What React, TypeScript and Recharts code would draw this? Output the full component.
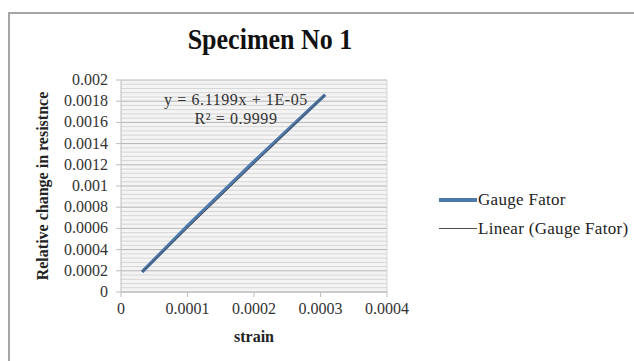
import { LineChart, Line, XAxis, YAxis, CartesianGrid, ReferenceLine } from "recharts";

// strain vs relative change in resistance
const strain = [0.0000316, 0.0001, 0.0002, 0.000307];
const resistance = [0.000189, 0.000622, 0.00123, 0.00186];

// linear trendline end points
const trendStrain = [0.0000316, 0.000307];
const trendResistance = [0.000189, 0.00186];

const xTicks = [0, 0.0001, 0.0002, 0.0003, 0.0004];
const yTicks = [0, 0.0002, 0.0004, 0.0006, 0.0008, 0.001, 0.0012, 0.0014, 0.0016, 0.0018, 0.002];
const minorTicks = [
  0.00004, 0.00008, 0.00012, 0.00016, 0.00024, 0.00028, 0.00032, 0.00036, 0.00044, 0.00048, 0.00052, 0.00056,
  0.00064, 0.00068, 0.00072, 0.00076, 0.00084, 0.00088, 0.00092, 0.00096, 0.00104, 0.00108, 0.00112, 0.00116,
  0.00124, 0.00128, 0.00132, 0.00136, 0.00144, 0.00148, 0.00152, 0.00156, 0.00164, 0.00168, 0.00172, 0.00176,
  0.00184, 0.00188, 0.00192, 0.00196,
];

const gaugeData = strain.map((x, i) => ({ x, y: resistance[i] }));
const trendData = trendStrain.map((x, i) => ({ x, y: trendResistance[i] }));

const serif = "Liberation Serif, DejaVu Serif, serif";
const BLUE = "#4d79ad";
const GRAY = "#4a4a4a";

const fmt = (v: number) => (v === 0 ? "0" : String(Number(v.toPrecision(4))));

function XTick(props: any) {
  const { x, y, payload } = props;
  return (
    <text x={x} y={y + 15} textAnchor="middle" fill="#333" style={{ fontFamily: serif, fontSize: 16 }}>
      {fmt(payload.value)}
    </text>
  );
}

function YTick(props: any) {
  const { x, y, payload } = props;
  return (
    <text x={x} y={y + 5} textAnchor="end" fill="#333" style={{ fontFamily: serif, fontSize: 16 }}>
      {fmt(payload.value)}
    </text>
  );
}

function LegendBox() {
  const rows = [
    { name: "Gauge Fator", color: BLUE, w: 4 },
    { name: "Linear (Gauge Fator)", color: GRAY, w: 1 },
  ];
  return (
    <div
      style={{
        position: "absolute",
        left: 439,
        top: 185,
        fontFamily: serif,
        fontSize: 17,
        letterSpacing: 0.3,
        color: "#222",
      }}
    >
      {rows.map((r) => (
        <div key={r.name} style={{ display: "flex", alignItems: "center", height: 29 }}>
          <div style={{ width: 38, height: r.w, background: r.color, marginRight: 1 }} />
          <span>{r.name}</span>
        </div>
      ))}
    </div>
  );
}

export default function App() {
  return (
    <div
      style={{
        position: "absolute",
        left: 0,
        top: 0,
        width: 634,
        height: 361,
        background: "#fff",
        overflow: "hidden",
        fontFamily: serif,
      }}
    >
      <div
        style={{
          position: "absolute",
          left: 8,
          top: 12,
          width: 660,
          height: 380,
          border: "2px solid #a6a6a6",
        }}
      />
      <div
        style={{
          position: "absolute",
          left: 0,
          width: 540,
          top: 25,
          textAlign: "center",
          fontWeight: "bold",
          fontSize: 26,
          color: "#111",
          transform: "scaleY(1.12)",
        }}
      >
        Specimen No 1
      </div>
      <div style={{ position: "absolute", left: 0, top: 0 }}>
        <LineChart
          width={634}
          height={361}
          margin={{ top: 80, right: 247, bottom: 13, left: 0 }}
          style={{ fontFamily: serif }}
        >
          <CartesianGrid horizontal={false} vertical={false} fill="#f4f4f4" />
          {minorTicks.map((v) => (
            <ReferenceLine key={v} y={v} stroke="#d6d6d6" strokeWidth={1} />
          ))}
          {yTicks.map((v) => (
            <ReferenceLine key={"m" + v} y={v} stroke="#b4b4b4" strokeWidth={1} />
          ))}
          <ReferenceLine x={0.0004} stroke="#d6d6d6" />
          <XAxis
            type="number"
            dataKey="x"
            domain={[0, 0.0004]}
            ticks={xTicks}
            interval={0}
            allowDuplicatedCategory={false}
            height={56}
            stroke="#bdbdbd"
            tickSize={5}
            tick={<XTick />}
            label={{
              value: "strain",
              position: "insideBottom",
              offset: 6,
              style: { fill: "#222", fontFamily: serif, fontWeight: "bold", fontSize: 16 },
            }}
          />
          <YAxis
            type="number"
            dataKey="y"
            domain={[0, 0.002]}
            ticks={yTicks}
            interval={0}
            width={121}
            stroke="#bdbdbd"
            tickSize={5}
            tickMargin={8}
            tick={<YTick />}
            label={{
              value: "Relative change in resistnce",
              angle: -90,
              position: "insideLeft",
              offset: 42,
              style: { textAnchor: "middle", fill: "#222", fontFamily: serif, fontWeight: "bold", fontSize: 16 },
            }}
          />
          <Line
            data={gaugeData}
            dataKey="y"
            name="Gauge Fator"
            stroke={BLUE}
            strokeWidth={3.5}
            dot={false}
            isAnimationActive={false}
          />
          <Line
            data={trendData}
            dataKey="y"
            name="Linear (Gauge Fator)"
            stroke={GRAY}
            strokeWidth={1}
            dot={false}
            isAnimationActive={false}
          />
        </LineChart>
      </div>
      <div
        style={{
          position: "absolute",
          left: 136,
          width: 200,
          top: 90,
          textAlign: "center",
          fontSize: 16,
          letterSpacing: 0.6,
          lineHeight: "19px",
          color: "#333",
        }}
      >
        y = 6.1199x + 1E-05
        <br />
        R² = 0.9999
      </div>
      <LegendBox />
    </div>
  );
}
